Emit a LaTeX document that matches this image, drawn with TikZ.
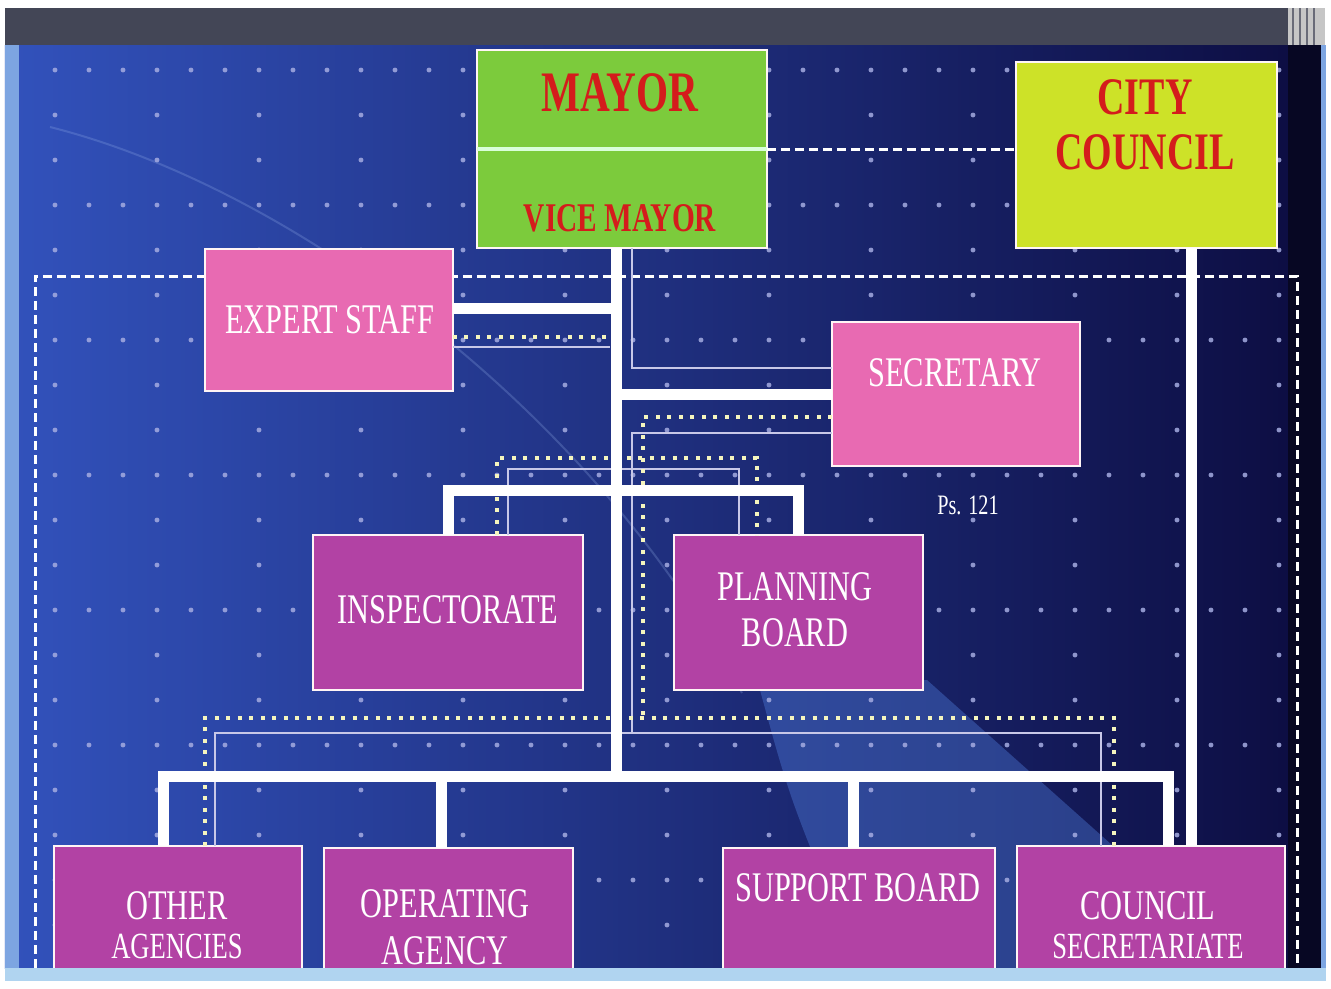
\documentclass[tikz,border=0pt]{standalone}
\usepackage{fontspec}
\setmainfont{Liberation Serif}
\usepackage{graphicx}
\usetikzlibrary{positioning}
\definecolor{barc}{RGB}{67,70,86}
\definecolor{bgl}{RGB}{50,82,188}
\definecolor{bgm}{RGB}{36,46,178}
\definecolor{bgr}{RGB}{12,12,64}
\definecolor{edgec}{RGB}{125,165,225}
\definecolor{stripc}{RGB}{176,212,240}
\definecolor{mayorg}{RGB}{124,203,60}
\definecolor{councily}{RGB}{205,226,40}
\definecolor{pinkc}{RGB}{232,106,178}
\definecolor{magc}{RGB}{178,66,164}
\definecolor{redt}{RGB}{212,28,28}
\definecolor{dotc}{RGB}{245,245,190}
\definecolor{thinc}{RGB}{200,200,232}
\definecolor{gridc}{RGB}{165,172,225}
\definecolor{swc}{RGB}{80,125,220}
\newcommand{\cond}[1]{\scalebox{0.72}[1]{#1}}
\tikzset{
  box/.style={rectangle,draw=white!85!pink,line width=0.5pt,inner sep=0pt,outer sep=0pt},
  gbox/.style={box,fill=mayorg},
  ybox/.style={box,fill=councily},
  pbox/.style={box,fill=pinkc},
  mbox/.style={box,fill=magc},
  rlab/.style={text=redt,font=\bfseries\fontsize{16.3}{17}\selectfont,inner sep=0pt,align=center},
  wlab/.style={text=white,font=\fontsize{12}{13}\selectfont,inner sep=0pt,align=center},
  wline/.style={draw=white,line width=1.1mm},
  dline/.style={draw=white,line width=0.3mm,dash pattern=on 0.9mm off 0.5mm},
  yline/.style={draw=dotc,line width=0.4mm,dash pattern=on 0.4mm off 0.75mm},
  tline/.style={draw=thinc,line width=0.2mm},
  gdot/.style={fill=gridc,opacity=0.85}
}
\begin{document}
\begin{tikzpicture}[x=0.1mm,y=-0.1mm]
  \useasboundingbox (0,0) rectangle (1331,989);
  \fill[white] (0,0) rectangle (1331,989);
  % slide background
  \shade[left color=bgl,middle color=bgm,right color=bgr] (5,45) rectangle (1325,968);
  \fill[bgr!55!black] (1288,45) rectangle (1321,968);
  \fill[edgec] (5,45) rectangle (19,968); \fill[edgec] (1321,45) rectangle (1326,968);
  \fill[swc,opacity=0.4] (760,690) .. controls (790,800) .. (860,968) -- (1030,968) -- (1112,845) -- (927,680) -- cycle;
  \draw[swc!60!white,opacity=0.25,line width=0.2mm] (50,127) .. controls (300,190) and (600,420) .. (742,693);
  \foreach \gy in {70,205,...,880} \foreach \gx in {55,89,...,1290} \fill[gdot] (\gx,\gy) circle[radius=0.7pt];
  \foreach \gy in {115,160,250,295,385,430,520,565,655,700,790,835,925} \foreach \gx in {55,157,...,1290} \fill[gdot] (\gx,\gy) circle[radius=0.7pt];
  \fill[barc] (5,8) rectangle (1288,45); \fill[gray!45] (1288,8) rectangle (1325,45);
  \foreach \sx in {1293,1300,1307,1314} \draw[barc!80,line width=0.25mm] (\sx,8) -- (\sx,45);
  \draw[dline] (35,968) -- (35,276) -- (1297,276) -- (1297,968);
  % boxes
  \node[gbox,minimum width=29mm,minimum height=19.8mm] (mayor) at (622,149) {};
  \node[ybox,minimum width=26.1mm,minimum height=18.6mm] (council) at (1146.5,155) {};
  \node[pbox,minimum width=24.8mm,minimum height=14.2mm] (expert) at (329,320) {};
  \node[pbox,minimum width=24.8mm,minimum height=14.4mm] (secretary) at (956,394) {};
  \node[mbox,minimum width=27mm,minimum height=15.5mm] (inspect) at (448,612.5) {};
  \node[mbox,minimum width=24.9mm,minimum height=15.5mm] (planning) at (798.5,612.5) {};
  \node[mbox,minimum width=24.8mm,minimum height=12.9mm] (other) at (178,910.5) {};
  \node[mbox,minimum width=24.9mm,minimum height=12.7mm] (operating) at (448.5,911.5) {};
  \node[mbox,minimum width=27.2mm,minimum height=12.7mm] (support) at (859,911.5) {};
  \node[mbox,minimum width=26.8mm,minimum height=12.9mm] (councilsec) at (1151,910.5) {};
  \draw[white!85!green,line width=0.4mm] (mayor.west) -- (mayor.east);
  % connectors
  \coordinate (tbot) at (616,776);
  \draw[dline] (mayor.east) -- (mayor.east -| council.west);
  \draw[tline] (expert.east |- 0,347) -- (610,347);
  \draw[tline] (mayor.south -| 632,0) |- (secretary.west |- 0,368);
  \draw[tline] (secretary.west |- 0,433) -| (632,733);
  \draw[tline] ([xshift=6mm]inspect.north) |- ([xshift=-6mm]planning.north |- 0,469) -- ([xshift=-6mm]planning.north);
  \draw[tline] ([xshift=3.7mm]other.north) |- ([xshift=-5mm]councilsec.north |- 0,733) -- ([xshift=-5mm]councilsec.north);
  \draw[yline] (expert.east |- 0,337) -- (610,337);
  \draw[yline] (secretary.west |- 0,417) -| (643,718);
  \draw[yline] ([xshift=4.9mm]inspect.north) |- ([xshift=-4.15mm]planning.north |- 0,458) -- ([xshift=-4.15mm]planning.north);
  \draw[yline] ([xshift=2.7mm]other.north) |- ([xshift=-3.7mm]councilsec.north |- 0,718) -- ([xshift=-3.7mm]councilsec.north);
  \draw[wline] (mayor.south -| tbot) -- (tbot);
  \draw[wline] (expert.east |- 0,308) -- (616,308);
  \draw[wline] (secretary.west) -- (secretary.west -| tbot);
  \draw[wline] (inspect.north) |- (616,490) -| (planning.north);
  \draw[wline] ([xshift=-1.5mm]other.north) |- (tbot) -| ([xshift=1.7mm]councilsec.north);
  \draw[wline] ([xshift=-0.75mm]operating.north) -- ([xshift=-0.75mm]operating.north |- tbot);
  \draw[wline] ([xshift=-0.6mm]support.north) -- ([xshift=-0.6mm]support.north |- tbot);
  \draw[wline] ([xshift=4.5mm]council.south) -- ([xshift=4.5mm]council.south |- councilsec.north);
  % labels
  \node[rlab] (lmayor) at (620,93) {\cond{MAYOR}};
  \node[rlab,font=\bfseries\fontsize{11.6}{12}\selectfont] (lvice) at (620,218) {\cond{VICE MAYOR}};
  \node[rlab,font=\bfseries\fontsize{15}{15.6}\selectfont] (lcouncil) at (1145,125) {\cond{CITY}\\\cond{COUNCIL}};
  \node[wlab] (lexpert) at (330,320) {\cond{EXPERT STAFF}};
  \node[wlab] (lsecretary) at (955,373) {\cond{SECRETARY}};
  \node[wlab] (linspect) at (448,610) {\cond{INSPECTORATE}};
  \node[wlab] (lplanning) at (795,610) {\cond{PLANNING}\\\cond{BOARD}};
  \node[wlab] (lother) at (177,925) {\cond{OTHER}\\[-2pt]{\fontsize{10.5}{12}\selectfont\cond{AGENCIES}}};
  \node[wlab] (loperating) at (445,927) {\cond{OPERATING}\\[0.5pt]\cond{AGENCY}};
  \node[wlab] (lsupport) at (858,888) {\cond{SUPPORT BOARD}};
  \node[wlab] (lcouncilsec) at (1148,925) {\cond{COUNCIL}\\[-2pt]{\fontsize{10.5}{12}\selectfont\cond{SECRETARIATE}}};
  \node[wlab,font=\fontsize{8}{9}\selectfont] (lps) at (968,505) {\cond{Ps. 121}};
  % bottom strip
  \fill[stripc] (5,968) rectangle (1326,981);
\end{tikzpicture}
\end{document}
